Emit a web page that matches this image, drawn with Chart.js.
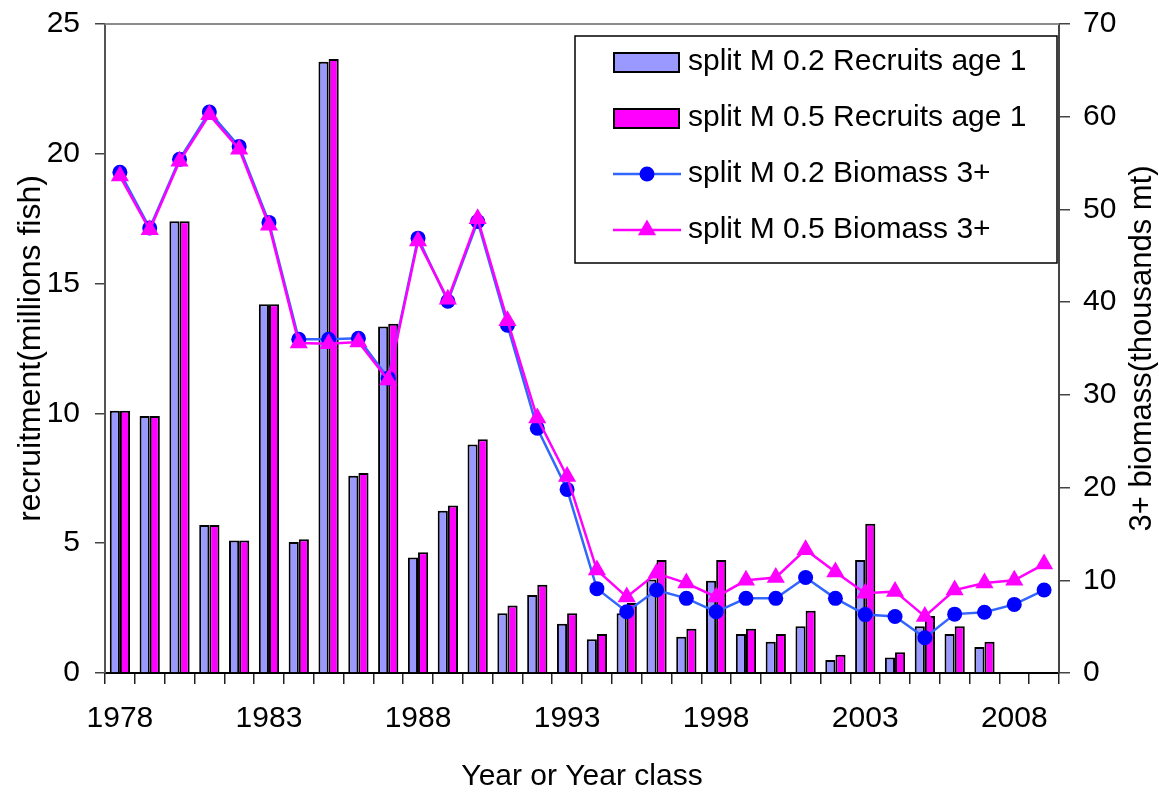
<!DOCTYPE html>
<html>
<head>
<meta charset="utf-8">
<title>Recruitment and 3+ biomass</title>
<script src="https://cdn.jsdelivr.net/npm/chart.js@4.4.1/dist/chart.umd.min.js"></script>
<style>
    html, body { margin: 0; padding: 0; background: #fff; }
    #wrap { width: 1159px; height: 792px; }
</style>
</head>
<body>
<div id="wrap"><canvas id="recruitChart" width="1159" height="792"></canvas></div>
<script>
// year classes on the x axis
var years = [1978, 1979, 1980, 1981, 1982, 1983, 1984, 1985, 1986, 1987,
             1988, 1989, 1990, 1991, 1992, 1993, 1994, 1995, 1996, 1997,
             1998, 1999, 2000, 2001, 2002, 2003, 2004, 2005, 2006, 2007,
             2008, 2009];

// recruits age 1 (millions of fish), left axis
var recruitsM02 = [10.1, 9.9, 17.4, 5.7, 5.1, 14.2, 5.05, 23.55, 7.6, 13.35,
                   4.45, 6.25, 8.8, 2.3, 3.0, 1.9, 1.3, 2.3, 3.6, 1.4,
                   3.55, 1.5, 1.2, 1.8, 0.5, 4.35, 0.6, 1.8, 1.5, 1.0,
                   null, null];
var recruitsM05 = [10.1, 9.9, 17.4, 5.7, 5.1, 14.2, 5.15, 23.65, 7.7, 13.45,
                   4.65, 6.45, 9.0, 2.6, 3.4, 2.3, 1.5, 2.7, 4.35, 1.7,
                   4.35, 1.7, 1.5, 2.4, 0.7, 5.75, 0.8, 2.2, 1.8, 1.2,
                   null, null];

// 3+ biomass (thousands mt), right axis
var biomassM02 = [54.0, 48.0, 55.4, 60.5, 56.8, 48.6, 36.0, 36.0, 36.1, 31.8,
                  46.9, 40.1, 48.7, 37.5, 26.4, 19.8, 9.1, 6.6, 8.95, 8.05,
                  6.6, 8.05, 8.05, 10.3, 8.05, 6.3, 6.1, 3.8, 6.35, 6.55,
                  7.4, 8.95];
var biomassM05 = [53.6, 47.8, 55.2, 60.2, 56.5, 48.3, 35.6, 35.5, 35.7, 31.6,
                  46.6, 40.3, 49.0, 38.0, 27.5, 21.2, 11.1, 8.2, 10.75, 9.7,
                  8.2, 10.0, 10.3, 13.3, 10.9, 8.6, 8.8, 6.1, 8.95, 9.7,
                  10.0, 11.75];

var FONT_FAMILY = '"Liberation Sans", Arial, Helvetica, sans-serif';

Chart.defaults.color = '#000';
Chart.defaults.font.family = FONT_FAMILY;

/**
 * Grey frame line on top of the plot, the legend box and the right axis title
 */
var chartExtras = {
    id: 'chartExtras',
    afterDraw: function (chart) {
        var ctx = chart.ctx;
        var area = chart.chartArea;

        ctx.save();
        ctx.strokeStyle = '#8c8c8c';
        ctx.lineWidth = 2;
        ctx.beginPath();
        ctx.moveTo(area.left, area.top);
        ctx.lineTo(area.right, area.top);
        ctx.stroke();

        // legend box
        var x0 = 575, y0 = 36, w = 482, h = 227;
        ctx.fillStyle = '#fff';
        ctx.fillRect(x0, y0, w, h);
        ctx.strokeStyle = '#000';
        ctx.lineWidth = 1.5;
        ctx.strokeRect(x0, y0, w, h);

        ctx.font = '30px ' + FONT_FAMILY;
        ctx.textBaseline = 'middle';
        ctx.textAlign = 'left';
        chart.data.datasets.forEach(function (ds, i) {
            var cy = y0 + 26 + i * 56;
            if (ds.type === 'bar') {
                ctx.fillStyle = ds.backgroundColor;
                ctx.fillRect(614, cy - 9, 65, 19);
                ctx.strokeStyle = '#000';
                ctx.lineWidth = 2;
                ctx.strokeRect(614, cy - 9, 65, 19);
            } else {
                ctx.strokeStyle = ds.borderColor;
                ctx.lineWidth = ds.borderWidth;
                ctx.beginPath();
                ctx.moveTo(613, cy);
                ctx.lineTo(681, cy);
                ctx.stroke();
                ctx.fillStyle = ds.pointBackgroundColor;
                Chart.helpers.drawPoint(ctx, {
                    pointStyle: ds.pointStyle,
                    radius: ds.pointRadius,
                    rotation: 0,
                    borderWidth: 0
                }, 647, cy);
            }
            ctx.fillStyle = '#000';
            ctx.fillText(ds.label, 688, cy);
        });

        // right axis title, read bottom to top like the left one
        ctx.translate(1142, (area.top + area.bottom) / 2);
        ctx.rotate(-Math.PI / 2);
        ctx.textAlign = 'center';
        ctx.font = '31px ' + FONT_FAMILY;
        ctx.fillText('3+ biomass(thousands mt)', 0, 0);
        ctx.restore();
    }
};

// fixed axis widths so the plot area sits where the original one does
function fixWidth(width) {
    return function (scale) {
        scale.width = width;
        scale.paddingTop = 0;
        scale.paddingBottom = 0;
    };
}

var ctx = document.getElementById('recruitChart').getContext('2d');

new Chart(ctx, {
    type: 'bar',
    data: {
        labels: years,
        datasets: [{
            type: 'bar',
            label: 'split M 0.2 Recruits age 1',
            data: recruitsM02,
            yAxisID: 'y',
            backgroundColor: '#9999ff',
            borderColor: '#000',
            borderWidth: 2,
            order: 3
        }, {
            type: 'bar',
            label: 'split M 0.5 Recruits age 1',
            data: recruitsM05,
            yAxisID: 'y',
            backgroundColor: '#ff00ff',
            borderColor: '#000',
            borderWidth: 2,
            order: 3
        }, {
            type: 'line',
            label: 'split M 0.2 Biomass 3+',
            data: biomassM02,
            yAxisID: 'y2',
            borderColor: '#3366ff',
            borderWidth: 2.5,
            pointStyle: 'circle',
            pointRadius: 7.5,
            pointBorderWidth: 0,
            pointBackgroundColor: '#0000ff',
            tension: 0,
            order: 2
        }, {
            type: 'line',
            label: 'split M 0.5 Biomass 3+',
            data: biomassM05,
            yAxisID: 'y2',
            borderColor: '#ff00ff',
            borderWidth: 2.5,
            pointStyle: 'triangle',
            pointRadius: 10.5,
            pointBorderWidth: 0,
            pointBackgroundColor: '#ff00ff',
            tension: 0,
            order: 1
        }]
    },
    options: {
        responsive: false,
        animation: false,
        layout: {
            padding: { top: 24, left: 0, right: 0, bottom: 0 }
        },
        datasets: {
            bar: {
                categoryPercentage: 0.68,
                barPercentage: 1.0
            }
        },
        plugins: {
            legend: { display: false },
            tooltip: { enabled: false }
        },
        scales: {
            x: {
                offset: true,
                grid: {
                    offset: true,
                    drawOnChartArea: false,
                    tickLength: 11,
                    color: '#222',
                    lineWidth: 1.5
                },
                border: { color: '#000', width: 2 },
                ticks: {
                    autoSkip: false,
                    maxRotation: 0,
                    padding: 17,
                    font: { size: 30 },
                    callback: function (value, index) {
                        return index % 5 === 0 ? years[index] : '';
                    }
                },
                title: {
                    display: true,
                    text: 'Year or Year class',
                    font: { size: 30, lineHeight: 1 },
                    padding: { top: 0, bottom: 0 }
                },
                afterFit: function (scale) { scale.height = 119; }
            },
            y: {
                position: 'left',
                min: 0,
                max: 25,
                grid: {
                    drawOnChartArea: false,
                    tickLength: 10,
                    color: '#444',
                    lineWidth: 1.5
                },
                border: { color: '#555', width: 2 },
                ticks: {
                    stepSize: 5,
                    padding: 15,
                    font: { size: 30 }
                },
                title: {
                    display: true,
                    text: 'recruitment(millions fish)',
                    font: { size: 32, lineHeight: 1 },
                    padding: { top: 15, bottom: 0 }
                },
                afterFit: fixWidth(105)
            },
            y2: {
                position: 'right',
                min: 0,
                max: 70,
                grid: {
                    drawOnChartArea: false,
                    tickLength: 11,
                    color: '#444',
                    lineWidth: 1.5
                },
                border: { color: '#444', width: 2 },
                ticks: {
                    stepSize: 10,
                    padding: 13,
                    font: { size: 30 }
                },
                afterFit: fixWidth(100)
            }
        }
    },
    plugins: [chartExtras]
});
</script>
</body>
</html>
